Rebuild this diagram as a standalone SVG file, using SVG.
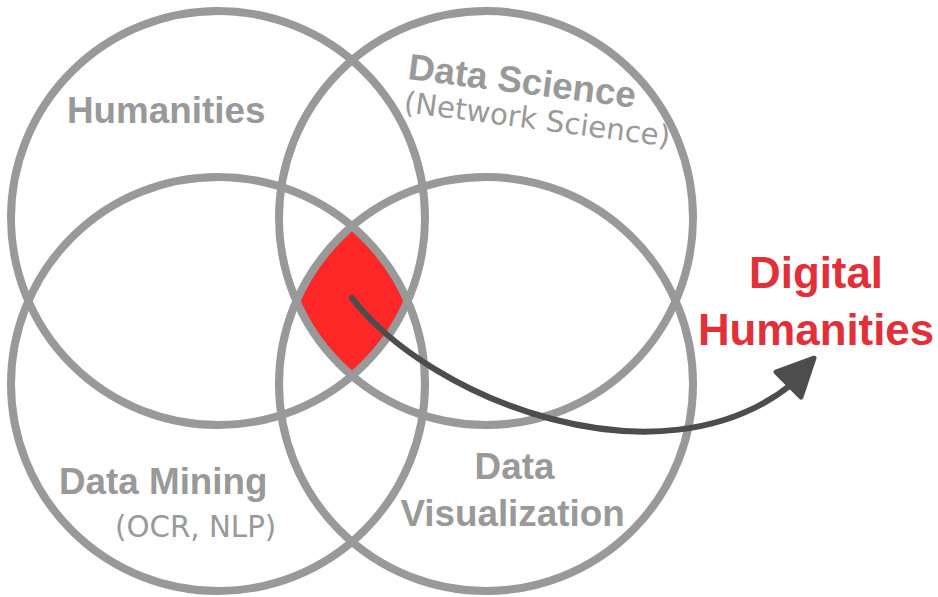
<svg xmlns="http://www.w3.org/2000/svg" width="938" height="597" viewBox="0 0 938 597">
<style>
.ring{fill:none;stroke:#999999;stroke-width:8}
.lbl{font-family:"Liberation Sans",Arial,sans-serif;font-weight:bold;font-size:36.8px;fill:#999999}
.sub{font-family:"DejaVu Sans",Verdana,sans-serif;font-size:29.3px;fill:#999999}
.dh{font-family:"Liberation Sans",Arial,sans-serif;font-weight:bold;font-size:43.8px;fill:#e1303a;text-anchor:middle}
.conn{fill:none;stroke:#4d4d4d;stroke-width:6;stroke-linecap:round}
.head{fill:#4d4d4d;stroke:#4d4d4d;stroke-width:5;stroke-linejoin:round}
</style>
<rect width="938" height="597" fill="#ffffff"/>
<g id="intersection">
<path d="M352,226.2 A207,207 0 0,1 407.6,301 A207,207 0 0,1 352,375.8 A207,207 0 0,1 296.4,301 A207,207 0 0,1 352,226.2 Z" fill="#fe2828"/>
</g>
<g id="humanities">
<circle class="ring" cx="218" cy="218" r="207"/>
<text class="lbl" x="67" y="123">Humanities</text>
</g>
<g id="data-science">
<circle class="ring" cx="486" cy="218" r="207"/>
<text class="lbl" x="407" y="79" transform="rotate(7.2 407 79)">Data Science</text>
<text class="sub" x="403" y="112" transform="rotate(7.4 403 112)">(Network Science)</text>
</g>
<g id="data-mining">
<circle class="ring" cx="218" cy="384" r="207"/>
<text class="lbl" x="59" y="494">Data Mining</text>
<text class="sub" x="115" y="537">(OCR, NLP)</text>
</g>
<g id="data-visualization">
<circle class="ring" cx="486" cy="384" r="207"/>
<text class="lbl" x="514.5" y="479" text-anchor="middle">Data</text>
<text class="lbl" x="512.5" y="526" text-anchor="middle">Visualization</text>
</g>
<g id="digital-humanities">
<text class="dh" x="816" y="288">Digital</text>
<text class="dh" x="816" y="345">Humanities</text>
</g>
<g id="connectors">
<path class="conn" d="M352,298 C430,400 660,490 792,384"/>
<polygon class="head" points="814,358 776,372 801,397"/>
</g>
</svg>
